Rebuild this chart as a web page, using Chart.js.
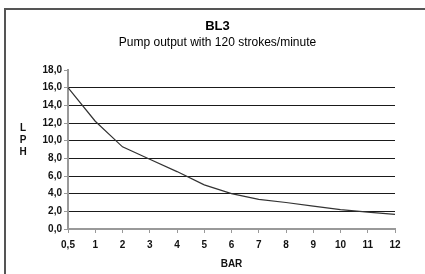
<!DOCTYPE html>
<html>
<head>
<meta charset="utf-8">
<script src="https://cdn.jsdelivr.net/npm/chart.js@4"></script>
<style>
  html, body { margin: 0; padding: 0; background: #fff; }
  #wrap { width: 425px; height: 274px; }
</style>
</head>
<body>
<div id="wrap"><canvas id="pump"></canvas></div>
<script>
// pump output curve
var pressureLabels = ['0,5', '1', '2', '3', '4', '5', '6', '7', '8', '9', '10', '11', '12'];
var outputLph = [16.0, 12.2, 9.3, 7.9, 6.5, 5.0, 4.0, 3.35, 3.0, 2.6, 2.2, 1.9, 1.65];
var yAxisLetters = ['L', 'P', 'H'];

var fontFamily = "'Liberation Sans', Arial, sans-serif";

// frame round the chart and the stacked y title
var frameAndLetters = {
    id: 'frameAndLetters',
    afterDraw: function (chart) {
        var ctx = chart.ctx;
        ctx.save();
        ctx.strokeStyle = '#555';
        ctx.lineWidth = 2;
        ctx.beginPath();
        ctx.moveTo(5, 274);
        ctx.lineTo(5, 9);
        ctx.lineTo(425, 9);
        ctx.stroke();

        ctx.fillStyle = '#111';
        ctx.font = 'bold 10px ' + fontFamily;
        ctx.textAlign = 'center';
        ctx.textBaseline = 'middle';
        yAxisLetters.forEach(function (letter, i) {
            ctx.fillText(letter, 23, 128 + i * 12);
        });
        ctx.restore();
    }
};

new Chart(document.getElementById('pump'), {
    type: 'line',
    data: {
        labels: pressureLabels,
        datasets: [{
            data: outputLph,
            borderColor: '#333',
            borderWidth: 1.2,
            pointRadius: 0,
            tension: 0,
            fill: false
        }]
    },
    options: {
        responsive: true,
        maintainAspectRatio: false,
        animation: false,
        layout: { padding: { left: 10, right: 0, top: 0, bottom: 4 } },
        plugins: {
            legend: { display: false },
            tooltip: { enabled: false },
            title: {
                display: true,
                text: 'BL3',
                color: '#000',
                font: { family: fontFamily, size: 13, weight: 'bold' },
                padding: { top: 19, bottom: 1 }
            },
            subtitle: {
                display: true,
                text: 'Pump output with 120 strokes/minute',
                color: '#000',
                font: { family: fontFamily, size: 12 },
                padding: { top: 0, bottom: 20 }
            }
        },
        scales: {
            x: {
                offset: false,
                // keep the plot's right edge 30px in from the canvas
                afterFit: function (scale) { scale.paddingRight = 30; },
                border: { color: '#999', width: 2 },
                grid: {
                    drawOnChartArea: false,
                    tickColor: '#999',
                    tickLength: 4
                },
                ticks: {
                    color: '#111',
                    padding: 6,
                    maxRotation: 0,
                    autoSkip: false,
                    font: { family: fontFamily, size: 10, weight: 'bold' }
                },
                title: {
                    display: true,
                    text: 'BAR',
                    color: '#111',
                    font: { family: fontFamily, size: 10, weight: 'bold' },
                    padding: { top: 1, bottom: 0 }
                }
            },
            y: {
                min: 0,
                max: 18,
                afterFit: function (scale) { scale.width = 58; },
                border: { color: '#999', width: 2 },
                grid: {
                    color: function (c) {
                        var v = c.tick ? c.tick.value : 0;
                        return (v === 0 || v === 18) ? 'rgba(0,0,0,0)' : '#1a1a1a';
                    },
                    lineWidth: 1,
                    tickColor: '#999',
                    tickLength: 4
                },
                ticks: {
                    stepSize: 2,
                    color: '#111',
                    padding: 2,
                    font: { family: fontFamily, size: 10, weight: 'bold' },
                    callback: function (v) { return v.toFixed(1).replace('.', ','); }
                }
            }
        }
    },
    plugins: [frameAndLetters]
});
</script>
</body>
</html>
